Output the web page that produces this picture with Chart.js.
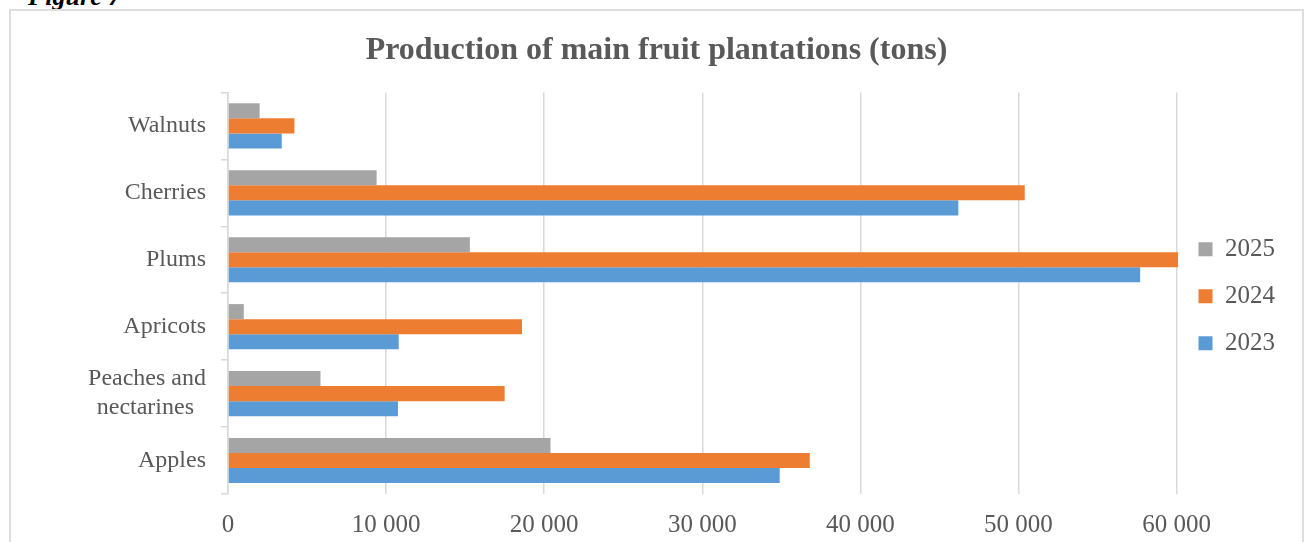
<!DOCTYPE html>
<html>
<head>
<meta charset="utf-8">
<script src="https://cdn.jsdelivr.net/npm/chart.js@4/dist/chart.umd.min.js"></script>
<style>
  html, body { margin: 0; padding: 0; background: #fff; overflow: hidden; }
  #wrap { position: relative; width: 1305px; height: 542px; }
  #barChart { position: absolute; left: 0; top: 0; }
  #frame {
    position: absolute; left: 9px; top: 9px; width: 1291px; height: 600px;
    border: 2px solid #dedede; pointer-events: none;
  }
  #fig {
    position: absolute; left: 28px; top: -18px; line-height: 26px;
    font: italic bold 26px "Liberation Serif", serif; color: #000;
  }
</style>
</head>
<body>
<div id="wrap">
  <div id="fig">Figure 7</div>
  <div id="frame"></div>
  <canvas id="barChart" width="1305" height="542"></canvas>
</div>
<script>
const categories = ['Walnuts', 'Cherries', 'Plums', 'Apricots', ['Peaches and', 'nectarines  '], 'Apples'];
const years = ['2025', '2024', '2023'];
const values2025 = [2000, 9400, 15300, 1000, 5850, 20400];
const values2024 = [4200, 50400, 60100, 18600, 17500, 36800];
const values2023 = [3400, 46200, 57700, 10800, 10750, 34900];
const xTicks = [0, 10000, 20000, 30000, 40000, 50000, 60000];

const textColor = '#595959';
const gridColor = '#d9d9d9';
const serif = '"Liberation Serif", "Times New Roman", serif';

function formatThousands(v) {
    return String(v).replace(/\B(?=(\d{3})+(?!\d))/g, ' ');
}

function buildChart() {
    const ctx = document.getElementById('barChart').getContext('2d');

    const data = {
        labels: categories,
        datasets: [
            { label: years[0], data: values2025, backgroundColor: '#a5a5a5' },
            { label: years[1], data: values2024, backgroundColor: '#ed7d31' },
            { label: years[2], data: values2023, backgroundColor: '#5b9bd5' }
        ].map(d => Object.assign(d, {
            categoryPercentage: 0.675,
            barPercentage: 1,
            borderWidth: 0,
            clip: false
        }))
    };

    new Chart(ctx, {
        type: 'bar',
        data: data,
        options: {
            indexAxis: 'y',
            responsive: false,
            animation: false,
            layout: {
                padding: { top: 0, left: 28, right: 20, bottom: 1 }
            },
            scales: {
                x: {
                    min: 0,
                    max: 60000,
                    afterBuildTicks: function (scale) {
                        scale.ticks = xTicks.map(v => ({ value: v }));
                    },
                    afterFit: function (scale) {
                        scale.height = 47;
                    },
                    grid: {
                        color: gridColor,
                        lineWidth: 1.5,
                        drawTicks: false
                    },
                    border: { display: false },
                    ticks: {
                        color: textColor,
                        padding: 16,
                        font: { family: serif, size: 25 },
                        callback: function (value) {
                            return formatThousands(value);
                        }
                    }
                },
                y: {
                    afterFit: function (scale) {
                        scale.width = 200;
                    },
                    grid: {
                        drawOnChartArea: false,
                        color: gridColor,
                        lineWidth: 1.5,
                        tickLength: 7
                    },
                    border: { color: gridColor, width: 1.5 },
                    ticks: {
                        color: textColor,
                        padding: 15,
                        font: { family: serif, size: 24, lineHeight: 1.2 }
                    }
                }
            },
            plugins: {
                title: {
                    display: true,
                    text: 'Production of main fruit plantations (tons)',
                    color: textColor,
                    font: { family: serif, size: 32, weight: 'bold' },
                    padding: { top: 32, bottom: 22 }
                },
                legend: {
                    position: 'right',
                    fullSize: false,
                    // empty title only to nudge the items down a little
                    title: { display: true, text: '', padding: 0, font: { size: 5 } },
                    labels: {
                        color: textColor,
                        boxWidth: 14,
                        boxHeight: 14,
                        padding: 22,
                        font: { family: serif, size: 25 }
                    }
                },
                tooltip: { enabled: false }
            }
        }
    });
}

buildChart();
</script>
</body>
</html>
